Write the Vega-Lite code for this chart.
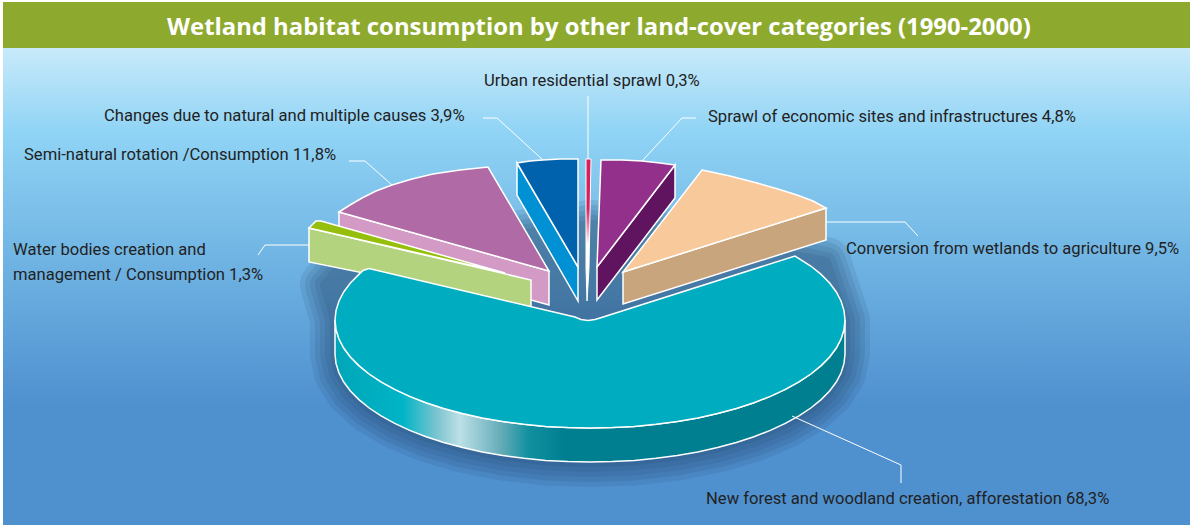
{"$schema":"https://vega.github.io/schema/vega-lite/v6.json","width":1193,"height":527,"autosize":"none","padding":0,"background":"white",
"title":{"text":"Wetland habitat consumption by other land-cover categories (1990-2000)","color":"white","font":"Open Sans","fontWeight":"bold","fontSize":23.85,"anchor":"start","frame":"group","offset":-64,"dx":167,"baseline":"bottom"},
"config":{"view":{"stroke":null}},
"datasets":{
"panels":[{"part":"sky","x":3,"x2":1190,"y":48,"y2":525},{"part":"banner","x":3,"x2":1190,"y":2,"y2":48}],
"shadow":[{"i":0,"x":845,"y":354},{"i":1,"x":841.1,"y":372.8},{"i":2,"x":829.6,"y":390.9},{"i":3,"x":810.8,"y":408},{"i":4,"x":785.3,"y":423.4},{"i":5,"x":753.9,"y":436.7},{"i":6,"x":717.5,"y":447.5},{"i":7,"x":677.2,"y":455.5},{"i":8,"x":634.3,"y":460.4},{"i":9,"x":590,"y":462},{"i":10,"x":545.7,"y":460.4},{"i":11,"x":502.8,"y":455.5},{"i":12,"x":462.5,"y":447.5},{"i":13,"x":426.1,"y":436.7},{"i":14,"x":394.7,"y":423.4},{"i":15,"x":369.2,"y":408},{"i":16,"x":350.4,"y":390.9},{"i":17,"x":338.9,"y":372.8},{"i":18,"x":335,"y":354},{"i":19,"x":335,"y":320},{"i":20,"x":325,"y":285},{"i":21,"x":345,"y":262},{"i":22,"x":430,"y":250},{"i":23,"x":520,"y":235},{"i":24,"x":590,"y":225},{"i":25,"x":660,"y":232},{"i":26,"x":740,"y":245},{"i":27,"x":826,"y":262},{"i":28,"x":845,"y":320}],
"tealside":[{"i":0,"x":845,"y":320},{"i":1,"x":844,"y":329.4},{"i":2,"x":841.1,"y":338.8},{"i":3,"x":836.3,"y":348},{"i":4,"x":829.6,"y":356.9},{"i":5,"x":821.1,"y":365.6},{"i":6,"x":810.8,"y":374},{"i":7,"x":798.9,"y":381.9},{"i":8,"x":785.3,"y":389.4},{"i":9,"x":770.3,"y":396.4},{"i":10,"x":753.9,"y":402.7},{"i":11,"x":736.3,"y":408.5},{"i":12,"x":717.5,"y":413.5},{"i":13,"x":697.8,"y":417.9},{"i":14,"x":677.2,"y":421.5},{"i":15,"x":656,"y":424.3},{"i":16,"x":634.3,"y":426.4},{"i":17,"x":612.2,"y":427.6},{"i":18,"x":590,"y":428},{"i":19,"x":567.8,"y":427.6},{"i":20,"x":545.7,"y":426.4},{"i":21,"x":524,"y":424.3},{"i":22,"x":502.8,"y":421.5},{"i":23,"x":482.2,"y":417.9},{"i":24,"x":462.5,"y":413.5},{"i":25,"x":443.7,"y":408.5},{"i":26,"x":426.1,"y":402.7},{"i":27,"x":409.7,"y":396.4},{"i":28,"x":394.7,"y":389.4},{"i":29,"x":381.1,"y":381.9},{"i":30,"x":369.2,"y":374},{"i":31,"x":358.9,"y":365.6},{"i":32,"x":350.4,"y":356.9},{"i":33,"x":343.7,"y":348},{"i":34,"x":338.9,"y":338.8},{"i":35,"x":336,"y":329.4},{"i":36,"x":335,"y":320},
{"i":37,"x":335,"y":354},{"i":38,"x":336,"y":363.4},{"i":39,"x":338.9,"y":372.8},{"i":40,"x":343.7,"y":382},{"i":41,"x":350.4,"y":390.9},{"i":42,"x":358.9,"y":399.6},{"i":43,"x":369.2,"y":408},{"i":44,"x":381.1,"y":415.9},{"i":45,"x":394.7,"y":423.4},{"i":46,"x":409.7,"y":430.4},{"i":47,"x":426.1,"y":436.7},{"i":48,"x":443.7,"y":442.5},{"i":49,"x":462.5,"y":447.5},{"i":50,"x":482.2,"y":451.9},{"i":51,"x":502.8,"y":455.5},{"i":52,"x":524,"y":458.3},{"i":53,"x":545.7,"y":460.4},{"i":54,"x":567.8,"y":461.6},{"i":55,"x":590,"y":462},{"i":56,"x":612.2,"y":461.6},{"i":57,"x":634.3,"y":460.4},{"i":58,"x":656,"y":458.3},{"i":59,"x":677.2,"y":455.5},{"i":60,"x":697.8,"y":451.9},{"i":61,"x":717.5,"y":447.5},{"i":62,"x":736.3,"y":442.5},{"i":63,"x":753.9,"y":436.7},{"i":64,"x":770.3,"y":430.4},{"i":65,"x":785.3,"y":423.4},{"i":66,"x":798.9,"y":415.9},{"i":67,"x":810.8,"y":408},{"i":68,"x":821.1,"y":399.6},{"i":69,"x":829.6,"y":390.9},{"i":70,"x":836.3,"y":382},{"i":71,"x":841.1,"y":372.8},{"i":72,"x":844,"y":363.4},{"i":73,"x":845,"y":354}],
"faces":[
{"part":"semi side","i":0,"x":339,"y":212},{"part":"semi side","i":1,"x":549,"y":271},{"part":"semi side","i":2,"x":549,"y":305},{"part":"semi side","i":3,"x":339,"y":246},
{"part":"semi top","i":0,"x":339,"y":212},{"part":"semi top","i":1,"x":350,"y":205},{"part":"semi top","i":2,"x":362,"y":198},{"part":"semi top","i":3,"x":376,"y":191},{"part":"semi top","i":4,"x":392,"y":185},{"part":"semi top","i":5,"x":412,"y":179},{"part":"semi top","i":6,"x":433,"y":174},{"part":"semi top","i":7,"x":460,"y":170},{"part":"semi top","i":8,"x":488,"y":167},{"part":"semi top","i":9,"x":549,"y":271},
{"part":"water side","i":0,"x":309,"y":228},{"part":"water side","i":1,"x":531,"y":280},{"part":"water side","i":2,"x":531,"y":307},{"part":"water side","i":3,"x":309,"y":262},
{"part":"water top","i":0,"x":309,"y":228},{"part":"water top","i":1,"x":316,"y":221},{"part":"water top","i":2,"x":321,"y":221},{"part":"water top","i":3,"x":505,"y":273},
{"part":"changes side","i":0,"x":517,"y":163},{"part":"changes side","i":1,"x":578,"y":267},{"part":"changes side","i":2,"x":578,"y":301},{"part":"changes side","i":3,"x":517,"y":195},
{"part":"changes top","i":0,"x":517,"y":163},{"part":"changes top","i":1,"x":530,"y":161},{"part":"changes top","i":2,"x":543,"y":160},{"part":"changes top","i":3,"x":560,"y":159},{"part":"changes top","i":4,"x":578,"y":159},{"part":"changes top","i":5,"x":578,"y":267},
{"part":"sprawl side","i":0,"x":675,"y":165},{"part":"sprawl side","i":1,"x":597,"y":267},{"part":"sprawl side","i":2,"x":597,"y":300},{"part":"sprawl side","i":3,"x":675,"y":198},
{"part":"sprawl top","i":0,"x":601,"y":160},{"part":"sprawl top","i":1,"x":622,"y":160},{"part":"sprawl top","i":2,"x":642,"y":161},{"part":"sprawl top","i":3,"x":660,"y":163},{"part":"sprawl top","i":4,"x":675,"y":165},{"part":"sprawl top","i":5,"x":597,"y":267},
{"part":"agriculture side","i":0,"x":826,"y":208},{"part":"agriculture side","i":1,"x":623,"y":272},{"part":"agriculture side","i":2,"x":623,"y":304},{"part":"agriculture side","i":3,"x":826,"y":240},
{"part":"agriculture top","i":0,"x":702,"y":170},{"part":"agriculture top","i":1,"x":730,"y":176},{"part":"agriculture top","i":2,"x":757,"y":183},{"part":"agriculture top","i":3,"x":778,"y":189},{"part":"agriculture top","i":4,"x":797,"y":195},{"part":"agriculture top","i":5,"x":813,"y":201},{"part":"agriculture top","i":6,"x":826,"y":208},{"part":"agriculture top","i":7,"x":623,"y":272},
{"part":"forest top","i":0,"x":600,"y":318},{"part":"forest top","i":1,"x":795,"y":256},{"part":"forest top","i":2,"x":810.8,"y":266},{"part":"forest top","i":3,"x":821.1,"y":274.4},{"part":"forest top","i":4,"x":829.6,"y":283.1},{"part":"forest top","i":5,"x":836.3,"y":292},{"part":"forest top","i":6,"x":841.1,"y":301.2},{"part":"forest top","i":7,"x":844,"y":310.6},{"part":"forest top","i":8,"x":845,"y":320},{"part":"forest top","i":9,"x":844,"y":329.4},{"part":"forest top","i":10,"x":841.1,"y":338.8},{"part":"forest top","i":11,"x":836.3,"y":348},{"part":"forest top","i":12,"x":829.6,"y":356.9},{"part":"forest top","i":13,"x":821.1,"y":365.6},{"part":"forest top","i":14,"x":810.8,"y":374},{"part":"forest top","i":15,"x":798.9,"y":381.9},{"part":"forest top","i":16,"x":785.3,"y":389.4},{"part":"forest top","i":17,"x":770.3,"y":396.4},{"part":"forest top","i":18,"x":753.9,"y":402.7},{"part":"forest top","i":19,"x":736.3,"y":408.5},{"part":"forest top","i":20,"x":717.5,"y":413.5},{"part":"forest top","i":21,"x":697.8,"y":417.9},{"part":"forest top","i":22,"x":677.2,"y":421.5},{"part":"forest top","i":23,"x":656,"y":424.3},{"part":"forest top","i":24,"x":634.3,"y":426.4},{"part":"forest top","i":25,"x":612.2,"y":427.6},{"part":"forest top","i":26,"x":590,"y":428},{"part":"forest top","i":27,"x":567.8,"y":427.6},{"part":"forest top","i":28,"x":545.7,"y":426.4},{"part":"forest top","i":29,"x":524,"y":424.3},{"part":"forest top","i":30,"x":502.8,"y":421.5},{"part":"forest top","i":31,"x":482.2,"y":417.9},{"part":"forest top","i":32,"x":462.5,"y":413.5},{"part":"forest top","i":33,"x":443.7,"y":408.5},{"part":"forest top","i":34,"x":426.1,"y":402.7},{"part":"forest top","i":35,"x":409.7,"y":396.4},{"part":"forest top","i":36,"x":394.7,"y":389.4},{"part":"forest top","i":37,"x":381.1,"y":381.9},{"part":"forest top","i":38,"x":369.2,"y":374},{"part":"forest top","i":39,"x":358.9,"y":365.6},{"part":"forest top","i":40,"x":350.4,"y":356.9},{"part":"forest top","i":41,"x":343.7,"y":348},{"part":"forest top","i":42,"x":338.9,"y":338.8},{"part":"forest top","i":43,"x":336,"y":329.4},{"part":"forest top","i":44,"x":335,"y":320},{"part":"forest top","i":45,"x":336,"y":310.6},{"part":"forest top","i":46,"x":338.9,"y":301.2},{"part":"forest top","i":47,"x":343.7,"y":292},{"part":"forest top","i":48,"x":350.4,"y":283.1},{"part":"forest top","i":49,"x":358.9,"y":274.4},{"part":"forest top","i":50,"x":363,"y":270.5},{"part":"forest top","i":51,"x":369,"y":268.5},{"part":"forest top","i":52,"x":575,"y":317},{"part":"forest top","i":53,"x":581,"y":319.5},{"part":"forest top","i":54,"x":588,"y":320.5},{"part":"forest top","i":55,"x":595,"y":319.5}
],
"sliver":[{"i":0,"x":586,"y":159},{"i":1,"x":591,"y":159},{"i":2,"x":589,"y":268},{"i":3,"x":587,"y":301},{"i":4,"x":586,"y":268}],
"leaders":[
{"k":"urban","i":0,"x":588,"y":96},{"k":"urban","i":1,"x":588,"y":159},
{"k":"sprawl","i":0,"x":696,"y":118},{"k":"sprawl","i":1,"x":682,"y":118},{"k":"sprawl","i":2,"x":642,"y":161},
{"k":"agri","i":0,"x":826,"y":222},{"k":"agri","i":1,"x":905,"y":222},{"k":"agri","i":2,"x":918,"y":236},
{"k":"forest","i":0,"x":792,"y":416},{"k":"forest","i":1,"x":901,"y":465},{"k":"forest","i":2,"x":901,"y":483},
{"k":"changes","i":0,"x":483,"y":118},{"k":"changes","i":1,"x":497,"y":118},{"k":"changes","i":2,"x":543,"y":160},
{"k":"semi","i":0,"x":349,"y":161},{"k":"semi","i":1,"x":365,"y":161},{"k":"semi","i":2,"x":392,"y":185},
{"k":"water","i":0,"x":258,"y":255},{"k":"water","i":1,"x":265,"y":245},{"k":"water","i":2,"x":309,"y":245}
],
"labels":[
{"category":"Urban residential sprawl 0,3%","share":0.3,"x":484,"y":81},
{"category":"Sprawl of economic sites and infrastructures 4,8%","share":4.8,"x":708,"y":117},
{"category":"Changes due to natural  and multiple causes 3,9%","share":3.9,"x":104,"y":116},
{"category":"Semi-natural rotation /Consumption 11,8%","share":11.8,"x":24,"y":155},
{"category":"Water bodies creation and\nmanagement / Consumption  1,3%","share":1.3,"x":13,"y":250},
{"category":"Conversion from wetlands to agriculture 9,5%","share":9.5,"x":846,"y":249},
{"category":"New forest and woodland creation, afforestation  68,3%","share":68.3,"x":706,"y":499}
]},
"encoding":{
"x":{"field":"x","type":"quantitative","scale":{"domain":[0,1193],"nice":false,"zero":false},"axis":null},
"y":{"field":"y","type":"quantitative","scale":{"domain":[527,0],"nice":false,"zero":false},"axis":null}},
"layer":[
{"data":{"name":"panels"},"transform":[{"filter":"datum.part==='sky'"}],"mark":{"type":"rect","fill":{"gradient":"linear","x1":0,"y1":0,"x2":0,"y2":1,"stops":[{"offset":0,"color":"#c8eafa"},{"offset":0.18,"color":"#8fd3f5"},{"offset":0.45,"color":"#6fb3e3"},{"offset":0.75,"color":"#4f90cf"},{"offset":1,"color":"#4f90cf"}]}},"encoding":{"x2":{"field":"x2"},"y2":{"field":"y2"}}},
{"data":{"name":"panels"},"transform":[{"filter":"datum.part==='banner'"}],"mark":{"type":"rect","fill":"#8eaa2e"},"encoding":{"x2":{"field":"x2"},"y2":{"field":"y2"}}},
{"data":{"name":"shadow"},"mark":{"type":"line","interpolate":"linear-closed","filled":true,"fill":"#1e3c5f","stroke":"#1e3c5f","strokeWidth":50,"strokeJoin":"round","opacity":0.11},"encoding":{"order":{"field":"i"}}},
{"data":{"name":"shadow"},"mark":{"type":"line","interpolate":"linear-closed","filled":true,"fill":"#1e3c5f","stroke":"#1e3c5f","strokeWidth":40,"strokeJoin":"round","opacity":0.11},"encoding":{"order":{"field":"i"}}},
{"data":{"name":"shadow"},"mark":{"type":"line","interpolate":"linear-closed","filled":true,"fill":"#1e3c5f","stroke":"#1e3c5f","strokeWidth":30,"strokeJoin":"round","opacity":0.11},"encoding":{"order":{"field":"i"}}},
{"data":{"name":"shadow"},"mark":{"type":"line","interpolate":"linear-closed","filled":true,"fill":"#1e3c5f","stroke":"#1e3c5f","strokeWidth":20,"strokeJoin":"round","opacity":0.11},"encoding":{"order":{"field":"i"}}},
{"data":{"name":"shadow"},"mark":{"type":"line","interpolate":"linear-closed","filled":true,"fill":"#1e3c5f","stroke":"#1e3c5f","strokeWidth":10,"strokeJoin":"round","opacity":0.11},"encoding":{"order":{"field":"i"}}},
{"data":{"name":"tealside"},"mark":{"type":"line","interpolate":"linear-closed","filled":true,"stroke":"white","strokeWidth":1.5,"fill":{"gradient":"linear","x1":0,"y1":0,"x2":1,"y2":0,"stops":[{"offset":0,"color":"#00a6b8"},{"offset":0.133,"color":"#00b4c6"},{"offset":0.2,"color":"#7cc4d0"},{"offset":0.245,"color":"#bce0e7"},{"offset":0.33,"color":"#5fa9b6"},{"offset":0.38,"color":"#10909f"},{"offset":0.45,"color":"#007f90"},{"offset":1,"color":"#007f90"}]}},"encoding":{"order":{"field":"i"}}},
{"data":{"name":"faces"},"mark":{"type":"line","interpolate":"linear-closed","filled":true,"stroke":"white","strokeWidth":1.5},"encoding":{"order":{"field":"i"},"detail":{"field":"part"},"fill":{"field":"part","type":"nominal","legend":null,"scale":{"domain":["semi side","semi top","water side","water top","changes side","changes top","sprawl side","sprawl top","agriculture side","agriculture top","forest top"],"range":["#d29ac4","#b06ba6","#b3d37f","#96bf0d","#0090d4","#0062ad","#60145f","#93308c","#c9a57e","#f8c99b","#00acbf"]}}}},
{"data":{"name":"sliver"},"mark":{"type":"line","interpolate":"linear-closed","filled":true,"stroke":"white","strokeWidth":1,"fill":{"gradient":"linear","x1":0,"y1":0,"x2":0,"y2":1,"stops":[{"offset":0,"color":"#d81e5b"},{"offset":0.35,"color":"#d81e5b"},{"offset":0.6,"color":"#ffffff"},{"offset":1,"color":"#ffffff"}]}},"encoding":{"order":{"field":"i"}}},
{"data":{"name":"leaders"},"mark":{"type":"line","stroke":"white","strokeWidth":1},"encoding":{"order":{"field":"i"},"detail":{"field":"k"}}},
{"data":{"name":"labels"},"mark":{"type":"text","align":"left","baseline":"middle","font":"Roboto","fontSize":16.6,"color":"#222222","lineBreak":"\n","lineHeight":25},"encoding":{"text":{"field":"category"}}}
]}
